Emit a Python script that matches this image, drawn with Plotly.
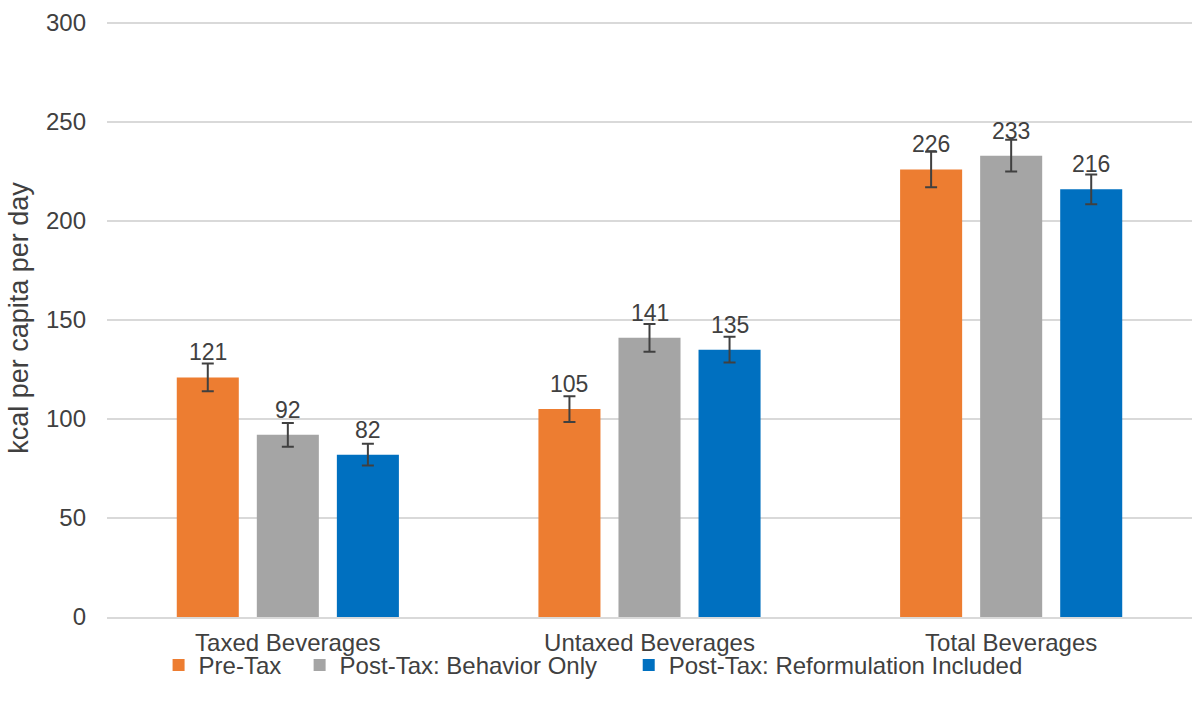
import plotly.graph_objects as go

categories = ["Taxed Beverages", "Untaxed Beverages", "Total Beverages"]
series_names = ["Pre-Tax", "Post-Tax: Behavior Only", "Post-Tax: Reformulation Included"]
pre_tax = [121, 105, 226]
behavior_only = [92, 141, 233]
reformulation = [82, 135, 216]
pre_tax_err = [7, 6.5, 9]
behavior_err = [6, 7, 8]
reform_err = [5.5, 6.5, 7.5]
colors = ["#ED7D31", "#A5A5A5", "#0070C0"]
y_ticks = [0, 50, 100, 150, 200, 250, 300]

values = [pre_tax, behavior_only, reformulation]
errors = [pre_tax_err, behavior_err, reform_err]

FONT = "Liberation Sans, Arial, sans-serif"
TXT = "#404040"
bargap = 0.336
bargroupgap = 0.225
legend_pad = [2, 4, 0]  # trailing spacing after legend labels

fig = go.Figure()
for name, vals, errs, col, pad in zip(series_names, values, errors, colors, legend_pad):
    fig.add_trace(go.Bar(
        x=categories, y=vals, name=name + "\u00a0" * pad, marker=dict(color=col, line=dict(width=0)),
        error_y=dict(type="data", array=errs, visible=True, color="#404040", thickness=2, width=6),
    ))

slot = (1 - bargap) / 3
for si, vals in enumerate(values):
    for ci, v in enumerate(vals):
        fig.add_annotation(x=ci + (si - 1) * slot, y=v, text=str(v), showarrow=False,
                           xref="x", yref="y", yanchor="bottom", yshift=10,
                           font=dict(family=FONT, size=23, color=TXT))

fig.update_layout(
    width=1194, height=709, plot_bgcolor="white", paper_bgcolor="white",
    margin=dict(l=107, r=2, t=19, b=92),
    barmode="group", bargap=bargap, bargroupgap=bargroupgap,
    font=dict(family=FONT, size=24, color=TXT),
    legend=dict(orientation="h", x=0.448, xanchor="center", y=-0.081, yanchor="middle",
                bgcolor="rgba(0,0,0,0)",
                font=dict(family=FONT, size=24, color=TXT), itemwidth=30),
    xaxis=dict(showgrid=False, ticks="", showline=True, linecolor="#D9D9D9", linewidth=1.5,
               tickfont=dict(size=24, color=TXT), ticklabelstandoff=3),
    yaxis=dict(range=[0, 302], tickvals=y_ticks, showgrid=True, gridcolor="#D9D9D9", gridwidth=1.5,
               zeroline=False, ticks="", ticklabelstandoff=20, tickfont=dict(size=24, color=TXT),
               title=dict(text="kcal per capita per day", font=dict(size=27, color=TXT), standoff=9)),
)

fig.write_html("out.html", post_script="document.body.style.margin='0';",
               config={"displayModeBar": False})
